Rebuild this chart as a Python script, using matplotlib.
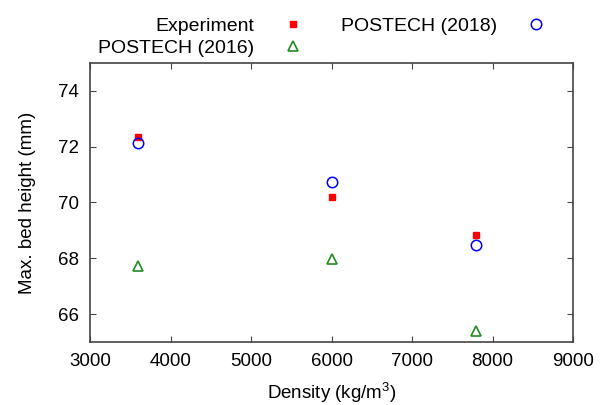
import matplotlib
matplotlib.use("Agg")
import matplotlib.pyplot as plt

plt.rcParams["font.family"] = ["Liberation Sans", "DejaVu Sans"]
plt.rcParams["mathtext.fontset"] = "custom"
plt.rcParams["mathtext.rm"] = "Liberation Sans"
plt.rcParams["mathtext.it"] = "Liberation Sans"

# densities (kg/m^3) and max bed height (mm)
density = [3600, 6000, 7800]
experiment = [72.36, 70.21, 68.85]
postech_2016 = [67.73, 67.96, 65.40]
postech_2018 = [72.15, 70.74, 68.46]

FS = 13.5
LFS = 14

fig = plt.figure(figsize=(6.14, 4.05), dpi=100)
ax = fig.add_axes([90 / 614, 1 - 342 / 405, 483 / 614, 279 / 405])

h_exp, = ax.plot(density, experiment, "s", color="#ff0000", ms=5, ls="none",
                 label="Experiment")
h_16, = ax.plot(density, postech_2016, "^", mfc="none", mec="#228b22", mew=1.2,
                ms=7, ls="none", label="POSTECH (2016)")
h_18, = ax.plot(density, postech_2018, "o", mfc="none", mec="#0000ff", mew=1.1,
                ms=7.5, ls="none", label="POSTECH (2018)")

ax.set_xlim(3000, 9000)
ax.set_ylim(65, 75)
ax.set_xticks(range(3000, 9001, 1000))
ax.set_yticks([66, 68, 70, 72, 74])
ax.tick_params(direction="in", top=True, right=True, length=4, width=0.8,
               labelsize=FS, color="#444444")
ax.tick_params(axis="x", pad=8)
ax.tick_params(axis="y", pad=8)
for s in ax.spines.values():
    s.set_color("#444444")
    s.set_linewidth(1.2)

ax.set_xlabel("Density (kg/m$^3$)", fontsize=FS, labelpad=8)
ax.set_ylabel("Max. bed height (mm)", fontsize=FS, labelpad=16)

fig.legend(handles=[h_exp, h_16, h_18], ncol=2, markerfirst=False,
           frameon=False, fontsize=LFS, loc="upper left",
           bbox_to_anchor=(98 / 614, 1 - 17 / 405), borderpad=0,
           borderaxespad=0, handlelength=2, handletextpad=1.0,
           columnspacing=1.47, labelspacing=0.25)

fig.savefig("out.png", dpi=100)
